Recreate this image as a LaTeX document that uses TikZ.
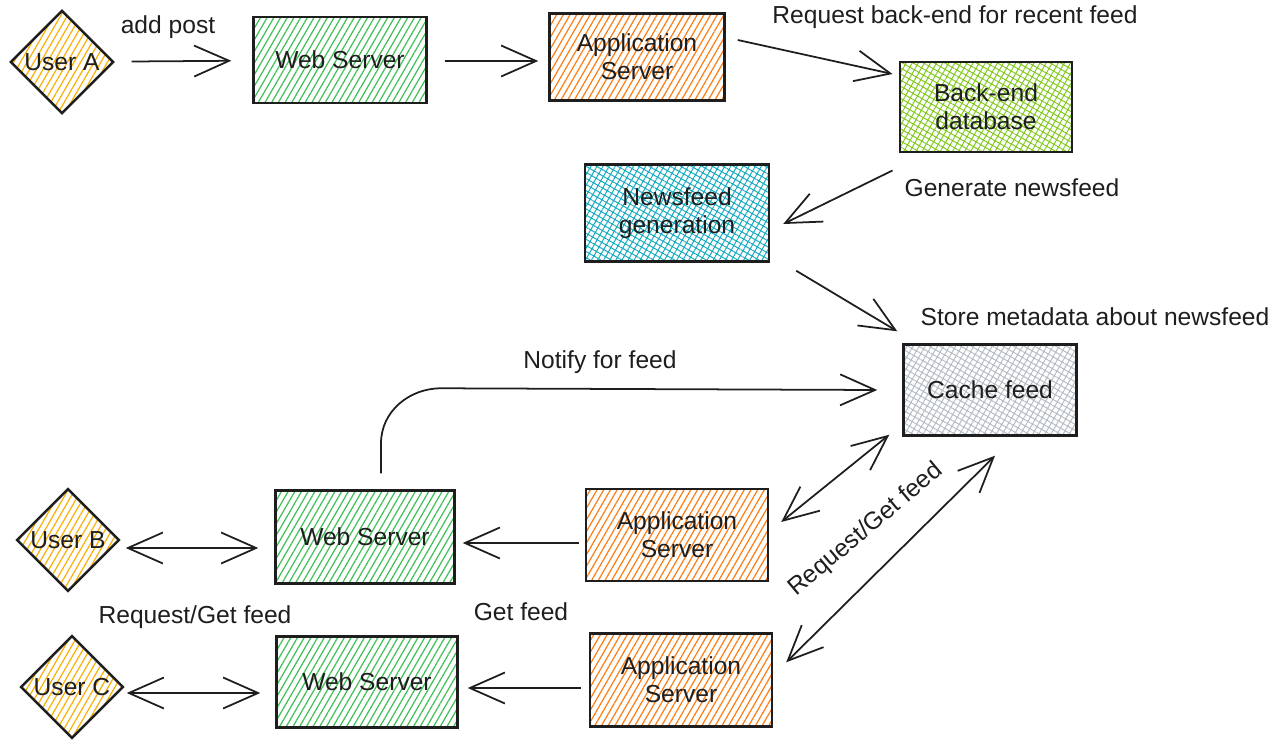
\documentclass[tikz,border=0pt]{standalone}
\usepackage{fontspec}
\setmainfont{Liberation Sans}
\usetikzlibrary{arrows.meta,shapes.geometric,patterns.meta,calc}
\definecolor{Y}{RGB}{250, 176, 5}
\definecolor{G}{RGB}{64, 192, 87}
\definecolor{O}{RGB}{253, 126, 20}
\definecolor{L}{RGB}{130, 201, 30}
\definecolor{T}{RGB}{21, 170, 191}
\definecolor{S}{RGB}{180, 188, 196}
\definecolor{K}{RGB}{30, 30, 30}

\begin{document}
\begin{tikzpicture}[x=0.02cm, y=-0.02cm, font=\fontsize{14}{16}\selectfont, text=K,
	box/.style={draw=K, line width=1.4pt, align=center, inner sep=0pt},
	hatch/.style={box, pattern={Lines[angle=60,distance=3.3pt,line width=0.7pt]}, pattern color=#1},
	cross/.style={box, pattern={Hatch[angle=60,distance=3pt,line width=0.55pt]}, pattern color=#1},
	user/.style={diamond, draw=K, line width=1.4pt, inner sep=0pt, minimum size=2.06cm,
		pattern={Lines[angle=60,distance=3.3pt,line width=0.7pt]}, pattern color=Y},
	arr/.style={draw=K, line width=1pt, -{Straight Barb[length=0.7cm,width=0.62cm]}},
	darr/.style={arr, {Straight Barb[length=0.7cm,width=0.62cm]}-{Straight Barb[length=0.7cm,width=0.62cm]}}]
	\useasboundingbox (0,0) rectangle (1282,747);

	%Fila de arriba
	\node[user] (userA) at (62,62) {User A};
	\node[hatch=G, minimum width=3.46cm, minimum height=1.72cm] (webA) at (340,60) {Web Server};
	\node[hatch=O, minimum width=3.5cm, minimum height=1.74cm] (appA) at (637,57) {Application\\Server};
	\node[cross=L, minimum width=3.44cm, minimum height=1.8cm] (db) at (986,107) {Back-end\\database};
	\node[cross=T, minimum width=3.68cm, minimum height=1.94cm] (gen) at (677,213) {Newsfeed\\generation};
	\node[cross=S, minimum width=3.46cm, minimum height=1.82cm] (cache) at (990,390) {Cache feed};

	%Usuario B
	\node[user] (userB) at (68,540) {User B};
	\node[hatch=G, minimum width=3.58cm, minimum height=1.86cm] (webB) at (365,537) {Web Server};
	\node[hatch=O, minimum width=3.64cm, minimum height=1.84cm] (appB) at (677,535) {Application\\Server};

	%Usuario C
	\node[user] (userC) at (72,687) {User C};
	\node[hatch=G, minimum width=3.62cm, minimum height=1.82cm] (webC) at (367,682) {Web Server};
	\node[hatch=O, minimum width=3.64cm, minimum height=1.86cm] (appC) at (681,680) {Application\\Server};

	%Flechas de arriba
	\draw[arr, shorten <=0.36cm, shorten >=0.42cm] (userA) -- (webA);
	\draw[arr] ($(webA.east)+(17,1)$) -- ($(appA.west)+(-10,4)$);
	\draw[arr] ($(appA.east)+(12,-17)$) -- ($(db.west)+(-7,-33)$);
	\draw[arr] ($(db.south west)+(-7,18)$) -- ($(gen.east)+(13,11)$);
	\draw[arr] ($(gen.south east)+(26,8)$) -- ($(cache.north west)+(-5,-12)$);

	%Notificacion
	\draw[arr] ($(webB.north)+(16,-16)$) -- ++(0,-30) to[out=90,in=180] ++(60,-55) -- ($(cache.west)+(-25,0)$);

	%Flechas de abajo
	\draw[darr] ($(cache.south west)+(-13,-2)$) -- ($(appB.east)+(12,-13)$);
	\draw[darr] ($(cache.south)+(5,19)$) -- ($(appC.north east)+(13,30)$);
	\draw[arr] ($(appB.west)+(-6,8)$) -- ($(webB.east)+(7,6)$);
	\draw[darr] ($(userB.east)+(5,8)$) -- ($(webB.west)+(-16,11)$);
	\draw[arr] ($(appC.west)+(-8,8)$) -- ($(webC.east)+(9,6)$);
	\draw[darr] ($(userC.east)+(2,6)$) -- ($(webC.west)+(-15,11)$);

	%Etiquetas
	\node (addlbl) at (168,27) {add post};
	\node (reqlbl) at (955,17) {Request back-end for recent feed};
	\node (genlbl) at (1012,188) {Generate newsfeed};
	\node (storelbl) at (1095,317) {Store metadata about newsfeed};
	\node (notlbl) at (600,362) {Notify for feed};
	\node[rotate=40] (rglbl) at (866,530) {Request/Get feed};
	\node (getlbl) at (521,612) {Get feed};
	\node (rgclbl) at (195,617) {Request/Get feed};
\end{tikzpicture}
\end{document}
